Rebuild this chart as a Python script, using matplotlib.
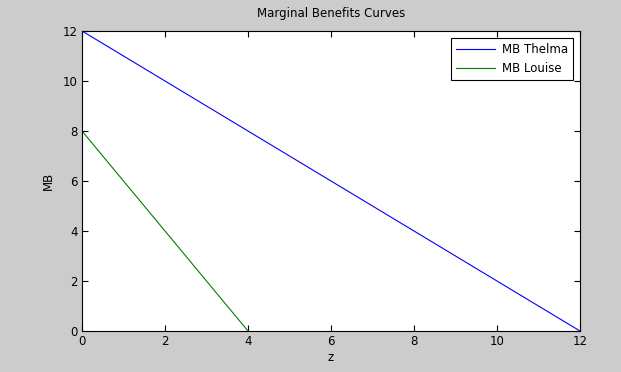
import matplotlib
matplotlib.use("Agg")
from matplotlib import pyplot as plt

z_thelma = [0, 12]
mb_thelma = [12, 0]
z_louise = [0, 4]
mb_louise = [8, 0]

fig = plt.figure(figsize=(6.21, 3.72), dpi=100, facecolor='#cccccc')
ax = fig.add_axes([82/621, 41/372, 498/621, 300/372])
ax.set_facecolor('white')

ax.plot(z_thelma, mb_thelma, color='#0000ff', lw=0.8, label='MB Thelma')
ax.plot(z_louise, mb_louise, color='#008000', lw=0.8, label='MB Louise')

ax.set_xlim(0, 12)
ax.set_ylim(0, 12)
ax.set_xticks(range(0, 13, 2))
ax.set_yticks(range(0, 13, 2))
ax.tick_params(direction='in', top=True, right=True, labelsize=8.5, length=4, width=0.8, pad=3)
for s in ax.spines.values():
    s.set_linewidth(0.8)

ax.set_xlabel('z', fontsize=8.5, labelpad=2)
ax.set_ylabel('MB', fontsize=8.5, labelpad=6)
ax.set_title('Marginal Benefits Curves', fontsize=8.5, pad=10)

leg = ax.legend(loc='upper right', fontsize=8.5, fancybox=False, edgecolor='black',
                framealpha=1, handlelength=3.3, borderaxespad=0.6, labelspacing=0.55,
                handletextpad=0.6)
leg.get_frame().set_linewidth(0.8)

fig.savefig('out.png', dpi=100, facecolor=fig.get_facecolor())
